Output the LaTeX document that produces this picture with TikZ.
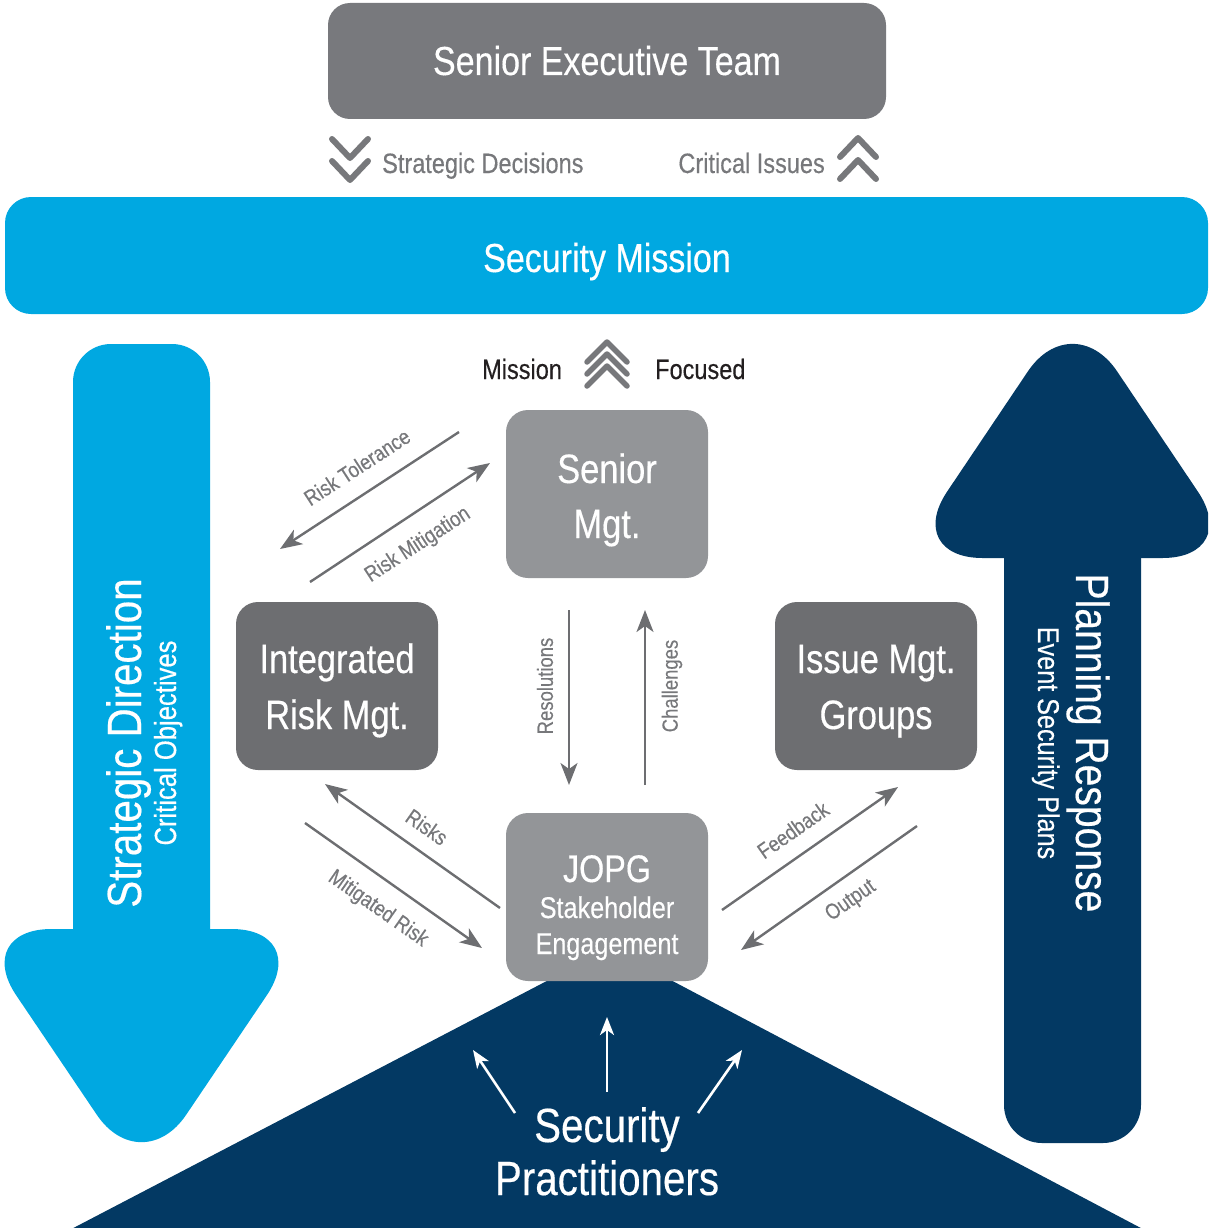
\documentclass[tikz,border=0pt]{standalone}
\usepackage{fontspec}
\setmainfont{Liberation Sans}[FakeStretch=0.84, FakeBold=0.35]
\usetikzlibrary{arrows.meta}
\definecolor{cyanb}{RGB}{0,168,225}
\definecolor{navy}{RGB}{3,57,99}
\definecolor{gtop}{RGB}{120,121,125}
\definecolor{gdark}{RGB}{109,110,113}
\definecolor{glight}{RGB}{147,149,152}
\definecolor{gtext}{RGB}{119,120,123}
\definecolor{gline}{RGB}{109,110,113}
\definecolor{txtblack}{RGB}{35,31,32}
\newcommand\fsz[1]{\fontsize{#1}{#1}\selectfont}
\begin{document}
\begin{tikzpicture}[x=1pt,y=-1pt,
  box/.style={rectangle, rounded corners=22pt, minimum width=202pt, minimum height=168pt, inner sep=0pt},
  boxtxt/.style={anchor=base, text=white, font=\fsz{41}},
  chev/.style={draw=gtext, line width=6pt, line cap=round, line join=round},
  garrow/.style={draw=gline, line width=2.4pt, -{Stealth[length=22pt,width=17pt,inset=6pt]}},
  glabel/.style={text=gtext, font=\fsz{22}, inner sep=0pt},
  warrow/.style={draw=white, line width=2.6pt, -{Stealth[length=18pt,width=14pt,inset=5pt]}},
  midtxt/.style={anchor=base west, text=gtext, font=\fsz{28}, inner sep=0pt},
]
\useasboundingbox (0,0) rectangle (1208,1228);
\clip (0,0) rectangle (1208,1228);

% Security mission bar
\node[fill=cyanb, rectangle, rounded corners=26pt, minimum width=1203pt, minimum height=117pt, inner sep=0pt] (mission) at (606.5,255.5) {};
\node[boxtxt, font=\fsz{40.5}] at (607,272) {Security Mission};

% Senior executive team
\node[fill=gtop, rectangle, rounded corners=22pt, minimum width=558pt, minimum height=116pt, inner sep=0pt] (set) at (607,61) {};
\node[boxtxt, font=\fsz{40.5}] at (607,75) {Senior Executive Team};

% chevrons
\draw[chev] (332,139) -- (350,158) -- (368,139);
\draw[chev] (332,161) -- (350,180) -- (368,161);
\node[midtxt] at (382,173) {Strategic Decisions};
\node[midtxt, anchor=base east] at (825,173) {Critical Issues};
\draw[chev] (840,157) -- (858,138) -- (876,157);
\draw[chev] (840,179) -- (858,160) -- (876,179);

\draw[chev, line width=5.5pt] (587,362) -- (607,342) -- (627,362);
\draw[chev, line width=5.5pt] (587,374) -- (607,354) -- (627,374);
\draw[chev, line width=5.5pt] (587,386) -- (607,366) -- (627,386);
\node[midtxt, text=txtblack] at (482,379) {Mission};
\node[midtxt, text=txtblack] at (655,379) {Focused};

% left arrow (strategic direction)
\fill[cyanb, rounded corners=38pt] (73,1000) -- (73,344) -- (210,344) -- (210,1000) -- cycle;
\fill[cyanb, rounded corners=80pt] (141.5,929) -- (311.5,929) -- (141.5,1181) -- (-28.5,929) -- cycle;
\node[anchor=base, rotate=90, text=white, font=\fsz{48}, inner sep=0pt] at (141,743) {Strategic Direction};
\node[anchor=base, rotate=90, text=white, font=\fsz{30.5}, inner sep=0pt] at (176,743) {Critical Objectives};

% right arrow (planning response)
\fill[navy, rounded corners=38pt] (1004,500) -- (1004,1143) -- (1141,1143) -- (1141,500) -- cycle;
\fill[navy, rounded corners=80pt] (1072.5,558) -- (902.5,558) -- (1072.5,305) -- (1242.5,558) -- cycle;
\node[anchor=base, rotate=-90, text=white, font=\fsz{46.5}, inner sep=0pt] at (1076,743) {Planning Response};
\node[anchor=base, rotate=-90, text=white, font=\fsz{30}, inner sep=0pt] at (1038,743) {Event Security Plans};

% bottom triangle
\fill[navy, rounded corners=12pt] (610,948) -- (1156,1236) -- (58,1236) -- cycle;

% boxes
\node[box, fill=glight] (senior) at (607,494) {};
\node[boxtxt] at (607,483) {Senior};
\node[boxtxt] at (607,538) {Mgt.};
\node[box, fill=gdark] (irm) at (337,686) {};
\node[boxtxt] at (337,673) {Integrated};
\node[boxtxt] at (337,729) {Risk Mgt.};
\node[box, fill=gdark] (img) at (876,686) {};
\node[boxtxt] at (876,673) {Issue Mgt.};
\node[boxtxt] at (876,729) {Groups};
\node[box, fill=glight] (jopg) at (607,897) {};
\node[boxtxt, font=\fsz{38.5}] at (607,882) {JOPG};
\node[boxtxt, font=\fsz{30}] at (607,918) {Stakeholder};
\node[boxtxt, font=\fsz{30}] at (607,954) {Engagement};

% gray arrows
\coordinate (rtA) at (459,432); \coordinate (rtB) at (280,549);
\coordinate (rmA) at (310,582); \coordinate (rmB) at (490,463);
\coordinate (reA) at (569,610); \coordinate (reB) at (569,785);
\coordinate (chA) at (645,785); \coordinate (chB) at (645,610);
\coordinate (rkA) at (500,908); \coordinate (rkB) at (325,784);
\coordinate (mrA) at (305,823); \coordinate (mrB) at (482,948);
\coordinate (fbA) at (722,910); \coordinate (fbB) at (898,787);
\coordinate (ouA) at (917,826); \coordinate (ouB) at (741,950);
\draw[garrow] (rtA) -- (rtB);
\draw[garrow] (rmA) -- (rmB);
\draw[garrow] (reA) -- (reB);
\draw[garrow] (chA) -- (chB);
\draw[garrow] (rkA) -- (rkB);
\draw[garrow] (mrA) -- (mrB);
\draw[garrow] (fbA) -- (fbB);
\draw[garrow] (ouA) -- (ouB);
\node[glabel, rotate=33] at (357,467) {Risk Tolerance};
\node[glabel, rotate=33] at (418,545) {Risk Mitigation};
\node[glabel, rotate=90] at (545,686) {Resolutions};
\node[glabel, rotate=90] at (672,686) {Challenges};
\node[glabel, rotate=-35] at (427,827) {Risks};
\node[glabel, rotate=-35] at (378,909) {Mitigated Risk};
\node[glabel, rotate=35] at (793,830) {Feedback};
\node[glabel, rotate=35] at (851,901) {Output};

% white arrows in triangle
\coordinate (w1A) at (607,1092); \coordinate (w1B) at (607,1017);
\coordinate (w2A) at (515,1113); \coordinate (w2B) at (473,1050);
\coordinate (w3A) at (698,1113); \coordinate (w3B) at (742,1050);
\draw[warrow] (w1A) -- (w1B);
\draw[warrow] (w2A) -- (w2B);
\draw[warrow] (w3A) -- (w3B);
\node[boxtxt, font=\fsz{48}] at (607,1142) {Security};
\node[boxtxt, font=\fsz{48}] at (607,1195) {Practitioners};
\end{tikzpicture}
\end{document}
